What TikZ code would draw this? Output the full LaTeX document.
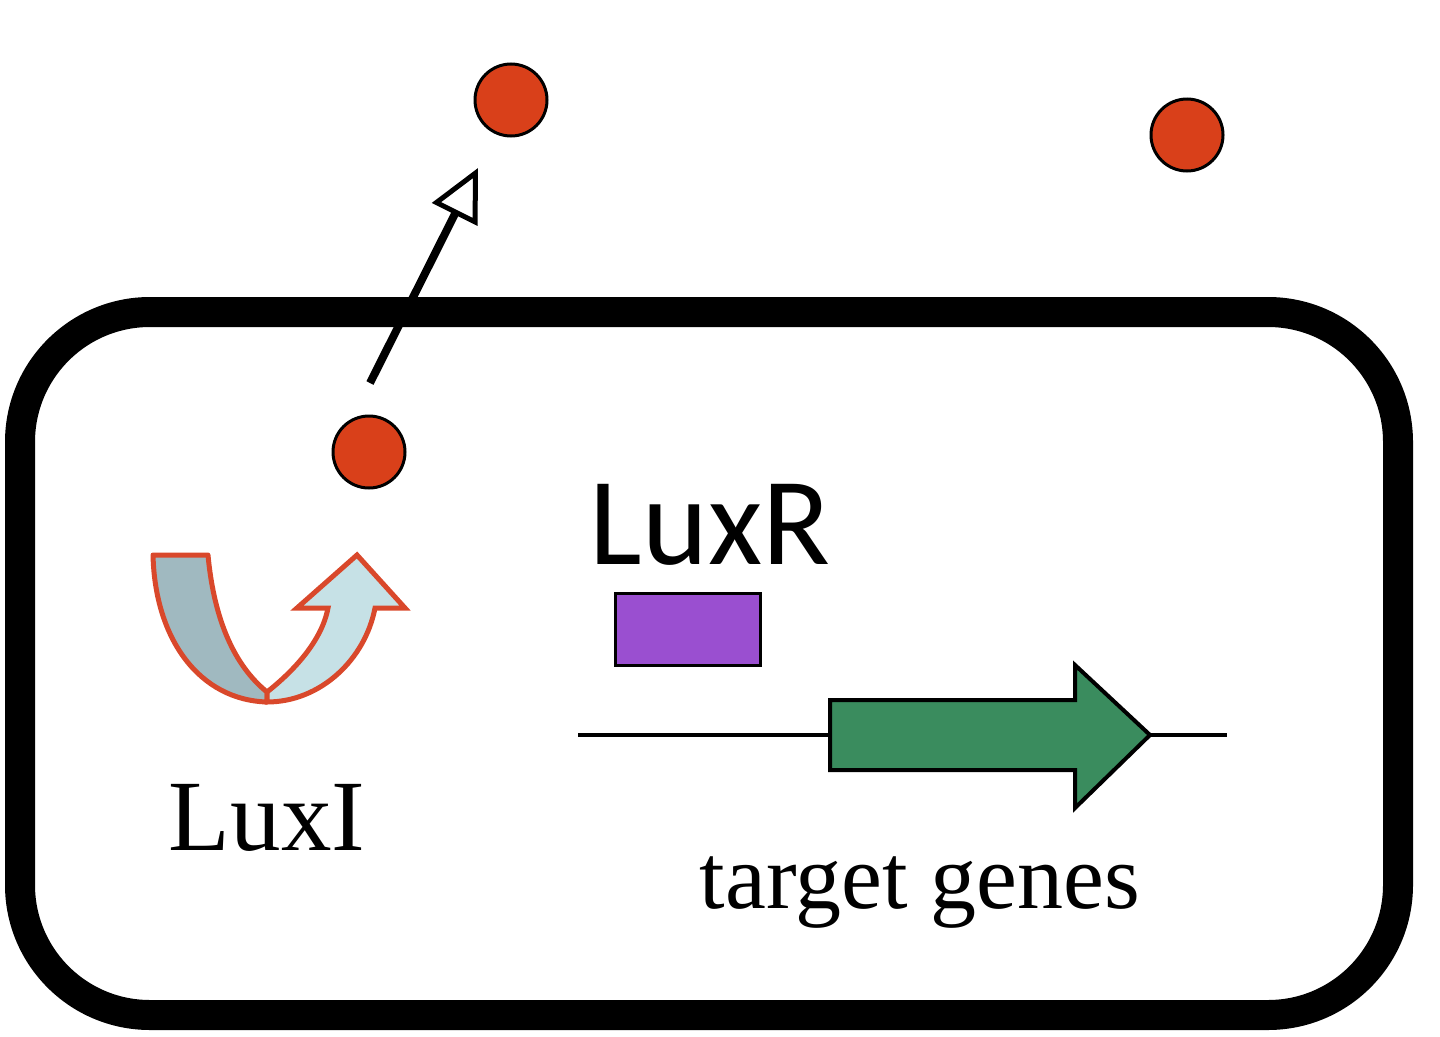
\documentclass[tikz,border=0pt]{standalone}
\usepackage{fontspec}
\setmainfont{Liberation Serif}
\newfontfamily\sansf{Carlito}
\usetikzlibrary{arrows.meta}
\definecolor{mol}{HTML}{D9401A}
\definecolor{ured}{HTML}{D9482B}
\begin{document}
\begin{tikzpicture}[x=1pt,y=-1pt,
  molecule/.style={circle,draw=black,line width=3,fill=mol,minimum size=72,inner sep=0},
  lbl/.style={inner sep=0,anchor=center}]
\useasboundingbox (0,0) rectangle (1440,1036);
\draw[line width=30,rounded corners=130] (20,312) rectangle (1398,1015);
\node[molecule] (m1) at (511,100) {};
\node[molecule] (m2) at (1187,135) {};
\node[molecule] (m3) at (369,452) {};
\coordinate (a1) at (370,383);
\coordinate (a2) at (478,168);
\draw[line width=8,-{Triangle[open,length=52,width=50,line width=5]}] (a1) -- (a2);
% U arrow
\draw[ured,line width=5,fill={rgb,255:red,160;green,185;blue,192},line join=round]
 (153,555) -- (208,555) .. controls (215,630) and (240,670) .. (267,692) -- (267,702) .. controls (200,700) and (155,640) .. cycle;
\draw[ured,line width=5,fill={rgb,255:red,198;green,225;blue,230},line join=miter]
 (267,692) .. controls (295,670) and (322,640) .. (328,608) -- (297,608) -- (357,555) -- (405,608) -- (375,608) .. controls (365,660) and (320,702) .. (267,702) -- cycle;
\node[lbl,font=\fontsize{101}{101}\selectfont] (luxi) at (267,818) {LuxI};
\node[lbl,font=\sansf\fontsize{125}{125}\selectfont] (luxr) at (710,525) {LuxR};
\draw[line width=3,fill={rgb,255:red,154;green,79;blue,208}] (615,593) rectangle (760,665);
\coordinate (d1) at (578,735);
\coordinate (d2) at (1227,735);
\draw[line width=4] (d1) -- (d2);
\draw[line width=4,fill={rgb,255:red,58;green,140;blue,94},line join=miter]
 (830,700) -- (1075,700) -- (1075,665) -- (1150,735) -- (1075,808) -- (1075,770) -- (830,770) -- cycle;
\node[lbl,font=\fontsize{92}{92}\selectfont] (tg) at (920,893) {target genes};
\end{tikzpicture}
\end{document}
